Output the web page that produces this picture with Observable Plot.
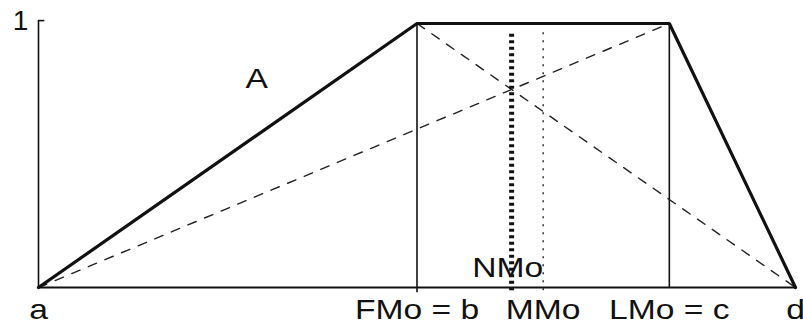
<!DOCTYPE html>
<html>
<head>
<meta charset="utf-8">
<script src="https://cdn.jsdelivr.net/npm/d3@7"></script>
<script src="https://cdn.jsdelivr.net/npm/@observablehq/plot@0.6"></script>
<style>
  html, body { margin: 0; padding: 0; background: #fff; }
  svg { display: block; }
</style>
</head>
<body>
<div id="chart"></div>
<script>
// Trapezoidal fuzzy number A = (a, b, c, d)
const pointNames = ["a", "FMo = b", "MMo", "LMo = c", "d"];
const pointX = [0, 6, 8, 10, 12];          // a, b, MMo, c, d
const membership = [0, 1, 1, 0];           // μ at a, b, c, d
const trapX = [0, 6, 10, 12];
const nmoX = 7.5;                           // intersection of the diagonals
const mmoX = 8;                             // mean of maxima
const yTicks = [1];
const setName = "A";

const trap = trapX.map((x, i) => ({x, y: membership[i]}));
const diagAC = [{x: trapX[0], y: 0}, {x: trapX[2], y: 1}];
const diagBD = [{x: trapX[1], y: 1}, {x: trapX[3], y: 0}];
const bottomLabels = pointNames.map((t, i) => ({x: pointX[i], t}));

const font = "Liberation Sans, Arial, Helvetica, sans-serif";
const ink = "#111";
const yTop = 1.011;

const plot = Plot.plot({
  width: 803,
  height: 327,
  marginLeft: 38,
  marginRight: 8,
  marginTop: 23,
  marginBottom: 40,
  x: {domain: [0, 12], axis: null},
  y: {domain: [0, 1], axis: null},
  style: {fontFamily: font, background: "#fff"},
  marks: [
    // thin verticals at b and c
    Plot.ruleX([trapX[1]], {y1: -0.02, y2: 1, stroke: ink, strokeWidth: 1.6}),
    Plot.ruleX([trapX[2]], {y1: 0, y2: 1, stroke: ink, strokeWidth: 1.6}),
    // dashed diagonals
    Plot.line(diagAC, {x: "x", y: "y", stroke: "#222", strokeWidth: 1.4, strokeDasharray: "9,9"}),
    Plot.line(diagBD, {x: "x", y: "y", stroke: "#222", strokeWidth: 1.4, strokeDasharray: "9,9"}),
    // axes
    Plot.ruleY([0], {x1: 0, x2: 12, stroke: ink, strokeWidth: 1.8}),
    Plot.ruleX([0], {y1: 0, y2: yTop, stroke: ink, strokeWidth: 1.6}),
    Plot.ruleY(yTicks.map(() => yTop), {x1: 0, x2: 0.1, stroke: ink, strokeWidth: 1.6}),
    Plot.text(yTicks, {x: 0, y: () => yTop, text: d => String(d), dx: -18, textAnchor: "middle", lineAnchor: "middle", fontSize: 28, fill: ink}),
    // labels
    Plot.text(bottomLabels, {x: "x", y: () => 0, text: "t", dy: 31.5, textAnchor: "middle", lineAnchor: "bottom", fontSize: 28, fill: ink, className: "stretch"}),
    Plot.text(["NMo"], {x: () => nmoX, y: () => 0, text: d => d, dx: -4, dy: -11, textAnchor: "middle", lineAnchor: "bottom", fontSize: 28, fill: ink, className: "stretch"}),
    Plot.text([setName], {x: () => 3.46, y: () => 0.754, text: d => d, textAnchor: "middle", lineAnchor: "bottom", fontSize: 28, fill: ink, className: "stretch"}),
    // NMo (thick dashed) and MMo (dotted)
    Plot.ruleX([nmoX], {y1: -0.012, y2: 0.97, stroke: ink, strokeWidth: 5, strokeDasharray: "3,3.5"}),
    Plot.ruleX([mmoX], {y1: -0.012, y2: 0.966, stroke: ink, strokeWidth: 1.3, strokeDasharray: "2,6"}),
    // thick membership function
    Plot.line(trap, {x: "x", y: "y", stroke: ink, strokeWidth: 3.2, strokeLinejoin: "miter"})
  ]
});

document.getElementById("chart").appendChild(plot);

// horizontally widen the glyphs as in the reference
d3.select(plot).selectAll("g.stretch text").each(function() {
  const len = this.getComputedTextLength();
  this.setAttribute("textLength", (len * 1.2).toFixed(1));
  this.setAttribute("lengthAdjust", "spacingAndGlyphs");
});
</script>
</body>
</html>
